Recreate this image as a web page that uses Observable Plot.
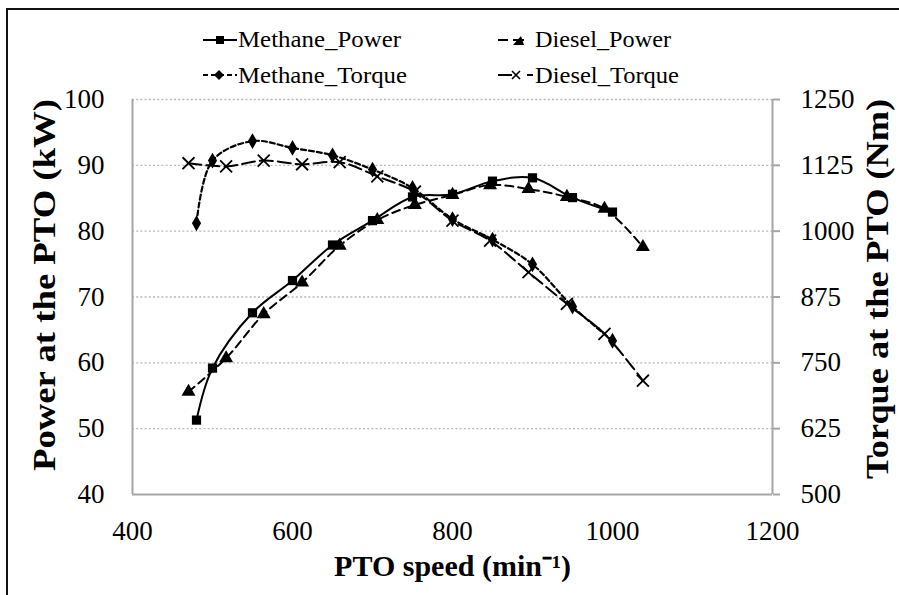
<!DOCTYPE html>
<html>
<head>
<meta charset="utf-8">
<script src="https://cdn.jsdelivr.net/npm/d3@7"></script>
<script src="https://cdn.jsdelivr.net/npm/@observablehq/plot@0.6"></script>
<style>
  html, body { margin: 0; padding: 0; background: white; }
  #wrap { position: relative; width: 899px; height: 595px; overflow: hidden; background: white; }
  #frame { position: absolute; left: 6px; top: 8px; width: 1000px; height: 700px; border-left: 2px solid #111; border-top: 2px solid #111; pointer-events: none; }
  #legend { position: absolute; left: 0; top: 0; }
  #chart { position: absolute; left: 0; top: 0; }
</style>
</head>
<body>
<div id="wrap">
  <div id="chart"></div>
  <div id="frame"></div>
  <svg id="legend" width="899" height="95"></svg>
</div>
<script>
// ---- data ----
const speedMethane = [480, 500, 550, 600, 650, 700, 750, 800, 850, 900, 950, 1000];
const methanePower = [51.3, 59.2, 67.6, 72.5, 77.9, 81.6, 85.2, 85.6, 87.6, 88.1, 85.1, 82.9];
const methaneTorque = [1015, 1134, 1171, 1158, 1144, 1117, 1082, 1023, 984, 937, 857, 792];

const speedDiesel = [470, 517, 564, 612, 659, 706, 753, 800, 847, 895, 943, 990, 1038];
const dieselPower = [55.6, 60.7, 67.4, 72.2, 77.8, 81.7, 84.0, 85.5, 87.0, 86.4, 85.2, 83.4, 77.6];
const dieselTorque = [1129, 1123, 1134, 1127, 1131, 1104, 1075, 1020, 982, 922, 862, 805, 716];

const xTicks = [400, 600, 800, 1000, 1200];
const powerTicks = [40, 50, 60, 70, 80, 90, 100];
const torqueTicks = [500, 625, 750, 875, 1000, 1125, 1250];

const seriesNames = ["Methane_Power", "Diesel_Power", "Methane_Torque", "Diesel_Torque"];
const xLabel = "PTO speed (min\u207B\u00B9)";
const yLeftLabel = "Power at the PTO (kW)";
const yRightLabel = "Torque at the PTO (Nm)";

// torque (right axis) mapped onto power scale
const tMin = 500, tMax = 1250, pMin = 40, pMax = 100;
const t2p = t => pMin + (t - tMin) * (pMax - pMin) / (tMax - tMin);

const mp = speedMethane.map((s, i) => ({s, v: methanePower[i]}));
const mt = speedMethane.map((s, i) => ({s, v: t2p(methaneTorque[i])}));
const dp = speedDiesel.map((s, i) => ({s, v: dieselPower[i]}));
const dt = speedDiesel.map((s, i) => ({s, v: t2p(dieselTorque[i])}));

const serif = "'Liberation Serif', 'Times New Roman', serif";
const gray = "#a6a6a6";

const chart = Plot.plot({
  width: 899, height: 595,
  marginLeft: 132, marginRight: 127, marginTop: 99, marginBottom: 101,
  x: {domain: [400, 1200]},
  y: {domain: [pMin, pMax]},
  style: {fontFamily: serif, fontSize: "27px", color: "black", background: "transparent", overflow: "visible"},
  marks: [
    Plot.gridY(powerTicks.filter(d => d > 40), {stroke: "#b8b8b8", strokeOpacity: 1, strokeWidth: 1.4, strokeDasharray: "2,2.2"}),
    Plot.ruleX([400, 1200], {stroke: gray, strokeWidth: 2}),
    Plot.ruleY([40], {stroke: gray, strokeWidth: 2}),
    Plot.axisX({ticks: xTicks, tickSize: 0, tickPadding: 26, tickFormat: d => String(d), label: null, fontSize: 27}),
    Plot.axisY({ticks: powerTicks, tickSize: 0, tickPadding: 28, tickFormat: d => String(d), label: null, fontSize: 27}),
    Plot.axisY({anchor: "right", ticks: torqueTicks.map(t2p), tickSize: 7, tickPadding: 21, stroke: gray, strokeWidth: 2,
      tickFormat: p => String(Math.round(tMin + (p - pMin) * (tMax - tMin) / (pMax - pMin))), label: null, fontSize: 27}),
    Plot.text([yLeftLabel], {frameAnchor: "left", textAnchor: "middle", dx: -87, dy: -12, rotate: -90, fontWeight: "bold", fontSize: 31, fontFamily: serif}),
    Plot.text([yRightLabel], {frameAnchor: "right", textAnchor: "middle", dx: 106, dy: -8, rotate: -90, fontWeight: "bold", fontSize: 31, fontFamily: serif}),
    Plot.text([xLabel], {frameAnchor: "bottom", dy: 81, fontWeight: "bold", fontSize: 30, fontFamily: serif}),

    Plot.line(dt, {x: "s", y: "v", stroke: "black", strokeWidth: 2, strokeDasharray: "13,5", curve: "catmull-rom"}),
    Plot.line(mt, {x: "s", y: "v", stroke: "black", strokeWidth: 2.2, strokeDasharray: "5,3", curve: "catmull-rom"}),
    Plot.line(dp, {x: "s", y: "v", stroke: "black", strokeWidth: 2, strokeDasharray: "8,5", curve: "catmull-rom"}),
    Plot.line(mp, {x: "s", y: "v", stroke: "black", strokeWidth: 2, curve: "catmull-rom"}),

    Plot.dot(dt, {x: "s", y: "v", symbol: "times", r: 5.5, stroke: "black", strokeWidth: 1.8}),
    Plot.dot(mt, {x: "s", y: "v", symbol: "diamond", r: 4.8, fill: "black", stroke: "none"}),
    Plot.dot(dp, {x: "s", y: "v", symbol: "triangle", r: 5.2, fill: "black", stroke: "none"}),
    Plot.dot(mp, {x: "s", y: "v", symbol: "square", r: 5.2, fill: "black", stroke: "none"})
  ]
});
document.getElementById("chart").appendChild(chart);

// stretch the rotated axis titles to the reference's length
const stretch = {[yLeftLabel]: 372, [yRightLabel]: 380};
d3.select(chart).selectAll("text").each(function () {
  const L = stretch[this.textContent];
  if (L) { this.setAttribute("textLength", L); this.setAttribute("lengthAdjust", "spacingAndGlyphs"); }
});

// ---- legend ----
const lg = d3.select("#legend");
const fontL = 23;
function addText(x, y, t, len) {
  lg.append("text").attr("x", x).attr("y", y).attr("font-family", serif).attr("font-size", fontL).attr("fill", "black")
    .attr("textLength", len).attr("lengthAdjust", "spacingAndGlyphs").text(t);
}
// Methane_Power
lg.append("line").attr("x1", 203).attr("x2", 237).attr("y1", 40).attr("y2", 40).attr("stroke", "black").attr("stroke-width", 2);
lg.append("rect").attr("x", 216).attr("y", 36).attr("width", 8).attr("height", 8).attr("fill", "black");
addText(238, 47, seriesNames[0], 163);
// Diesel_Power
lg.append("line").attr("x1", 498).attr("x2", 508).attr("y1", 40).attr("y2", 40).attr("stroke", "black").attr("stroke-width", 2);
lg.append("path").attr("d", "M513,45 L524,45 L521,36 Z").attr("fill", "black");
lg.append("line").attr("x1", 513).attr("x2", 524).attr("y1", 40).attr("y2", 40).attr("stroke", "black").attr("stroke-width", 2);
addText(535, 47, seriesNames[1], 136);
// Methane_Torque
lg.append("line").attr("x1", 203).attr("x2", 237).attr("y1", 75).attr("y2", 75).attr("stroke", "black").attr("stroke-width", 2).attr("stroke-dasharray", "5,3");
lg.append("path").attr("d", "M219,70 L224,75 L219,80 L214,75 Z").attr("fill", "black");
addText(238, 83, seriesNames[2], 169);
// Diesel_Torque
lg.append("line").attr("x1", 498).attr("x2", 512).attr("y1", 75).attr("y2", 75).attr("stroke", "black").attr("stroke-width", 2);
lg.append("path").attr("d", "M512,71 L520,79 M520,71 L512,79").attr("stroke", "black").attr("stroke-width", 1.6);
lg.append("line").attr("x1", 527).attr("x2", 533).attr("y1", 75).attr("y2", 75).attr("stroke", "black").attr("stroke-width", 2);
addText(535, 83, seriesNames[3], 144);
</script>
</body>
</html>
